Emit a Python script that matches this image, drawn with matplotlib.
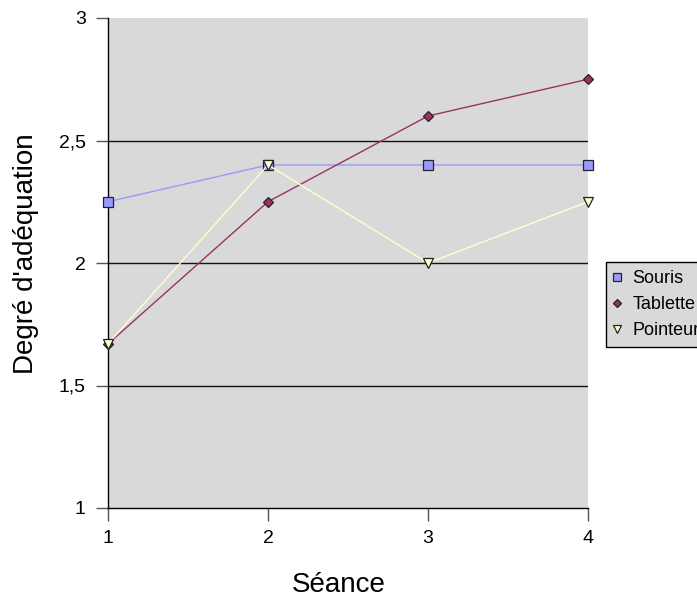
import matplotlib
matplotlib.use("Agg")
import matplotlib.pyplot as plt

plt.rcParams['font.family'] = ['Liberation Sans', 'DejaVu Sans']

seances = [1, 2, 3, 4]
souris = [2.25, 2.4, 2.4, 2.4]
tablette = [1.67, 2.25, 2.6, 2.75]
pointeur = [1.67, 2.4, 2.0, 2.25]
y_ticks = [1, 1.5, 2, 2.5, 3]
y_tick_labels = ["1", "1,5", "2", "2,5", "3"]

fig = plt.figure(figsize=(6.97, 6.01), dpi=100)
ax = fig.add_axes([108 / 697, 1 - 508 / 601, 480 / 697, 490 / 601])
ax.set_facecolor("#D9D9D9")

ax.plot(seances, souris, color="#9999FF", lw=1, marker="s", ms=7,
        mfc="#9999FF", mec="#222233", mew=0.9, label="Souris", zorder=3,
        clip_on=False)
ax.plot(seances, tablette, color="#993366", lw=1, marker="D", ms=5.2,
        mfc="#993366", mec="#222222", mew=0.9, label="Tablette", zorder=3,
        clip_on=False)
ax.plot(seances, pointeur, color="#FFFFCC", lw=1, marker="v", ms=7,
        mfc="#FFFFCC", mec="#222222", mew=0.9, label="Pointeur", zorder=3,
        clip_on=False)

ax.set_xlim(1, 4)
ax.set_ylim(1, 3)
ax.set_xticks(seances)
ax.set_yticks(y_ticks)
ax.set_yticklabels(y_tick_labels)
for y in y_ticks[1:-1]:
    ax.axhline(y, color="#111111", lw=1, zorder=1)

for s in ["top", "right"]:
    ax.spines[s].set_visible(False)
for s in ["left", "bottom"]:
    ax.spines[s].set_color("black")
    ax.spines[s].set_linewidth(1)
ax.tick_params(axis="both", direction="out", length=9, width=1,
               color="#555555", labelsize=14, pad=7)

ax.set_xlabel("Séance", fontsize=20)
ax.xaxis.set_label_coords(0.48, (508 - 585) / 490)
ax.xaxis.label.set_va("center")
ax.set_ylabel("Degré d'adéquation", fontsize=20)
ax.yaxis.set_label_coords((26 - 108) / 480, (508 - 254) / 490)
ax.yaxis.label.set_va("center")

# legend sits partly beyond the right edge of the figure
leg = ax.legend(loc="upper left", bbox_to_anchor=(606 / 697, 1 - 262 / 601),
                bbox_transform=fig.transFigure, fontsize=13, frameon=True,
                fancybox=False, framealpha=1, facecolor="#D9D9D9",
                edgecolor="black", handlelength=0.3, handletextpad=0.7,
                borderpad=0.45, labelspacing=0.5, borderaxespad=0,
                markerscale=0.85)
leg.get_frame().set_linewidth(1)

fig.savefig("out.png", dpi=100)
